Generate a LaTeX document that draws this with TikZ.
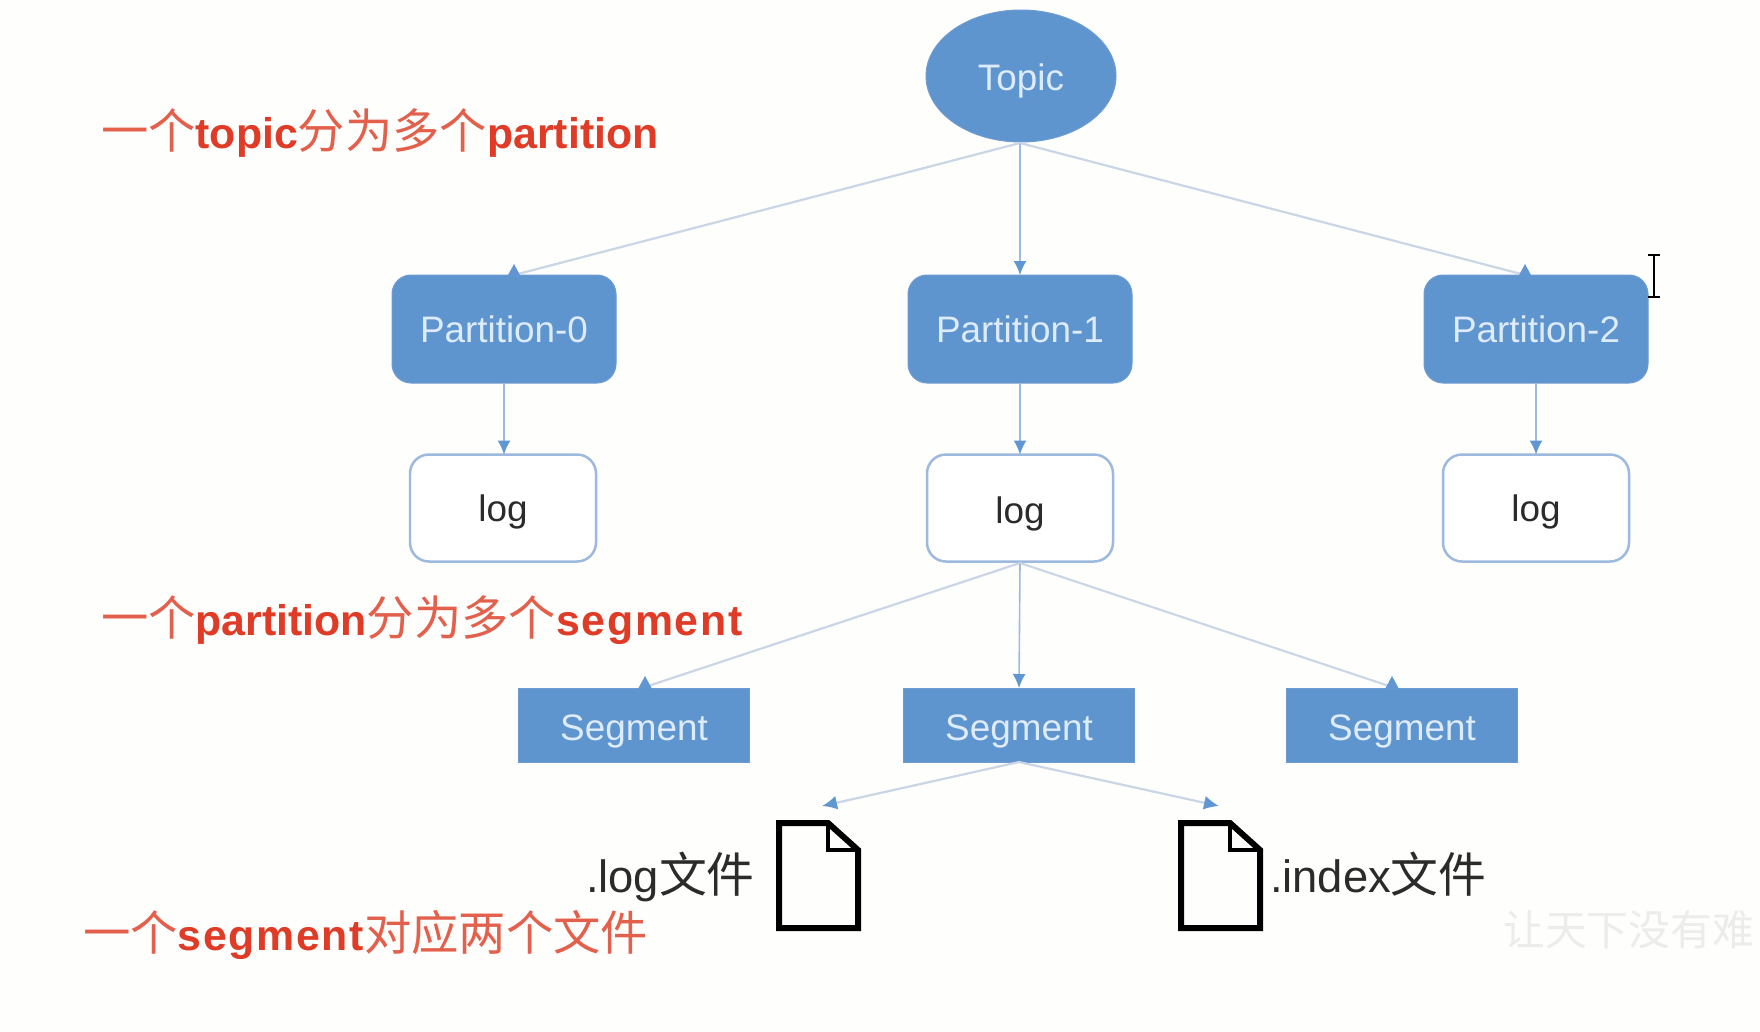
\documentclass[tikz,border=0pt]{standalone}
\usepackage{fontspec}
\setmainfont{Liberation Sans}
\newfontfamily\cjk{Noto Sans CJK SC}
\usetikzlibrary{arrows.meta,shapes.geometric}
\definecolor{boxblue}{HTML}{5F95CF}
\definecolor{boxedge}{HTML}{6E9BD2}
\definecolor{logedge}{HTML}{9DB9DE}
\definecolor{lightlabel}{HTML}{DDEBFA}
\definecolor{linev}{HTML}{9DBBE2}
\definecolor{lined}{HTML}{CAD6E6}
\definecolor{headblue}{HTML}{6096D2}
\definecolor{redlatin}{HTML}{DF3B26}
\definecolor{redcjk}{HTML}{E2604C}
\definecolor{darktext}{HTML}{2B2B2B}
\definecolor{bgtone}{HTML}{FEFEFC}
\definecolor{wm}{HTML}{ECECEA}
\newcommand{\redline}[1]{{\color{redlatin}\fontsize{43}{50}\selectfont\bfseries #1}}
\newcommand{\redwide}[1]{{\color{redlatin}\fontsize{43}{50}\selectfont\bfseries\addfontfeature{LetterSpace=4}#1}}
\newcommand{\zhr}[1]{{\color{redcjk}\cjk\fontsize{47.5}{50}\selectfont #1}}
\newcommand{\zhd}[1]{{\cjk\fontsize{48}{50}\selectfont #1}}
\newcommand{\lift}[2]{\raisebox{-#1bp}[0pt][0pt]{#2}}
\tikzset{
  x=1bp,y=-1bp,
  lbl/.style={text=lightlabel,font=\fontsize{37}{40}\selectfont,inner sep=0pt,outer sep=0pt},
  topicnode/.style={ellipse,draw=boxedge,fill=boxblue,line width=1pt,minimum width=190bp,minimum height=132bp,lbl},
  partnode/.style={rectangle,rounded corners=19bp,draw=boxedge,fill=boxblue,line width=1pt,minimum width=224bp,minimum height=108bp,lbl},
  lognode/.style={rectangle,rounded corners=19bp,draw=logedge,fill=white,line width=2.5pt,minimum width=186bp,minimum height=107bp,inner sep=0pt,outer sep=0pt,text=darktext,font=\fontsize{37}{40}\selectfont},
  segnode/.style={rectangle,draw=boxedge,fill=boxblue,line width=1pt,minimum width=231bp,minimum height=74bp,lbl},
  conn/.style={line width=1.6bp,draw=linev,-{Latex[length=14bp,width=13bp,color=headblue]}},
  diag/.style={line width=2.2bp,draw=lined},
  diagtip/.style={line width=2.2bp,draw=lined,-{Latex[length=15bp,width=14bp,color=headblue]}},
  redtext/.style={anchor=base west,inner sep=0pt,outer sep=0pt},
  doctext/.style={anchor=base west,inner sep=0pt,outer sep=0pt,text=darktext,font=\fontsize{45.5}{50}\selectfont},
  pics/uptip/.style={code={\fill[headblue] (0,-11) -- (7,2) -- (-7,2) -- cycle;}},
  pics/fileicon/.style={code={
    \draw[black,line width=6bp,line join=miter] (-40,-52) -- (9,-52) -- (39,-25) -- (39,53) -- (-40,53) -- cycle;
    \draw[black,line width=4.5bp] (9,-52) -- (9,-25) -- (39,-25);
  }}
}
\begin{document}
\begin{tikzpicture}
\useasboundingbox (0,0) rectangle (1760,1031);
\fill[bgtone] (0,0) rectangle (1760,1031);

% nodes
\node[topicnode] (topic) at (1021,76) {\lift{14}{Topic}};
\node[partnode] (p0) at (504,329) {\lift{13}{Partition-0}};
\node[partnode] (p1) at (1020,329) {\lift{13}{Partition-1}};
\node[partnode] (p2) at (1536,329) {\lift{13}{Partition-2}};
\node[lognode] (l0) at (503,508) {\lift{13}{log}};
\node[lognode] (l1) at (1020,508) {\lift{15}{log}};
\node[lognode] (l2) at (1536,508) {\lift{13}{log}};
\node[segnode] (s0) at (634,725) {\lift{15}{Segment}};
\node[segnode] (s1) at (1019,725) {\lift{15}{Segment}};
\node[segnode] (s2) at (1402,725) {\lift{15}{Segment}};

% free ends of the connectors
\coordinate (p0in) at (514,275);
\coordinate (p2in) at (1525,275);
\coordinate (s0in) at (645,687);
\coordinate (s2in) at (1392,687);
\coordinate (f0in) at (822,806);
\coordinate (f1in) at (1219,806);
\coordinate (topicout) at (1020,143);
\coordinate (logout) at (1020,563);
\coordinate (segout) at (1019,762);

% connectors
\draw[diag] (topicout) -- (p0in) pic {uptip};
\draw[conn] (topicout) -- (p1.north);
\draw[diag] (topicout) -- (p2in) pic {uptip};
\draw[conn] (p0.south) -- (l0.north -| p0.south);
\draw[conn] (p1.south) -- (l1.north);
\draw[conn] (p2.south) -- (l2.north -| p2.south);
\draw[diag] (logout) -- (s0in) pic {uptip};
\draw[conn] (logout) -- (s1.north);
\draw[diag] (logout) -- (s2in) pic {uptip};
\draw[diagtip] (segout) -- (f0in);
\draw[diagtip] (segout) -- (f1in);

% files
\path (819,875) pic {fileicon};
\path (1221,875) pic {fileicon};

% labels
\node[redtext] (t1) at (101,148) {\zhr{一个}\redline{topic}\zhr{分为多个}\redline{partition}};
\node[redtext] (t2) at (101,635) {\zhr{一个}\redline{partition}\zhr{分为多个}\redwide{segment}};
\node[redtext] (t3) at (83,950) {\zhr{一个}\redwide{segment}\zhr{对应两个文件}};
\node[doctext] (d1) at (586,892) {.log\zhd{文件}};
\node[doctext] (d2) at (1270,892) {.index\zhd{文件}};

% watermark
\node[anchor=base west,inner sep=0pt,text=wm,font=\cjk\fontsize{42}{46}\selectfont] (wmk) at (1503,945) {让天下没有难};

% text cursor
\draw[black,line width=2.5bp] (1654,256) -- (1654,296) (1648,255) -- (1660,255) (1648,297) -- (1660,297);
\end{tikzpicture}
\end{document}
